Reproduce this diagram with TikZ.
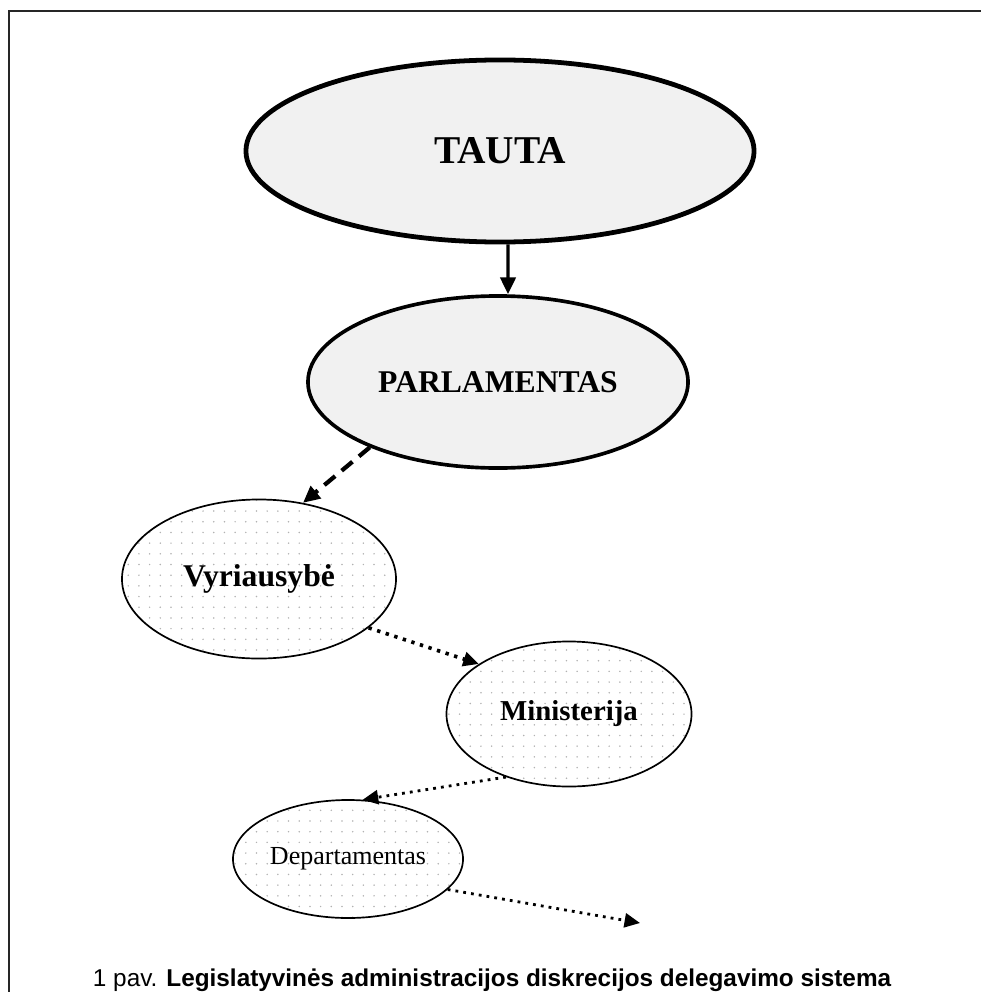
\documentclass[tikz,border=0pt]{standalone}
\usepackage{fontspec}
\setmainfont{Liberation Serif}
\newfontfamily\capfont{Liberation Sans}
\usetikzlibrary{shapes.geometric,arrows.meta,patterns.meta}

\tikzset{
  granite/.style={draw, ellipse, fill=gray!11, inner sep=0pt, font=\bfseries},
  dotted oval/.style={draw, ellipse, line width=1.2pt, inner sep=0pt,
    pattern={Dots[distance=7.6pt, radius=0.6pt]}, pattern color=gray!60},
  dotline/.style={line width=2.6pt, dash pattern=on 2.4pt off 4pt, -{Triangle[length=11pt, width=10pt]}}
}

\begin{document}
\begin{tikzpicture}[x=0.025cm, y=-0.025cm]
\useasboundingbox (0,0) rectangle (980,992);
\draw[line width=1.4pt, black!85] (9,11) rectangle (1010,1030);

\node[granite, line width=3.4pt, minimum width=12.7cm, minimum height=4.55cm, font=\fontsize{28}{30}\selectfont\bfseries] (tau) at (500,151) {TAUTA};
\node[granite, line width=2.6pt, minimum width=9.5cm, minimum height=4.3cm, font=\fontsize{22.5}{24}\selectfont\bfseries] (par) at (498,382) {PARLAMENTAS};
\node[dotted oval, minimum width=6.85cm, minimum height=3.975cm, font=\fontsize{22.5}{24}\selectfont\bfseries] (vyr) at (259,579) {Vyriausybė};
\node[dotted oval, minimum width=6.125cm, minimum height=3.625cm, font=\fontsize{20.5}{22}\selectfont\bfseries] (min) at (569,714) {Ministerija};
\node[dotted oval, minimum width=5.75cm, minimum height=2.95cm, font=\fontsize{18.5}{20}\selectfont] (dep) at (348,859) {Departamentas};
\coordinate (end) at (640,923);

\node[anchor=base west, font=\capfont\fontsize{17.3}{19}\selectfont] (cap) at (88,986) {1 pav. \textbf{Legislatyvinės administracijos diskrecijos delegavimo sistema}};

\draw[line width=2.3pt, -{Triangle[length=12pt, width=11pt]}] ([xshift=0.2cm]tau.south) -- ([xshift=0.25cm]par.north);
\draw[line width=3pt, dash pattern=on 10pt off 6pt, -{Triangle[length=12pt, width=11pt]}] (par.207) -- (vyr.60);
\draw[dotline] (vyr.336) -- (min.151);
\draw[dotline, line width=2pt, dash pattern=on 2pt off 3.6pt] (min.225) -- (dep.76);
\draw[dotline, line width=2pt, dash pattern=on 2pt off 3.6pt] (dep.343) -- (end);
\end{tikzpicture}
\end{document}
